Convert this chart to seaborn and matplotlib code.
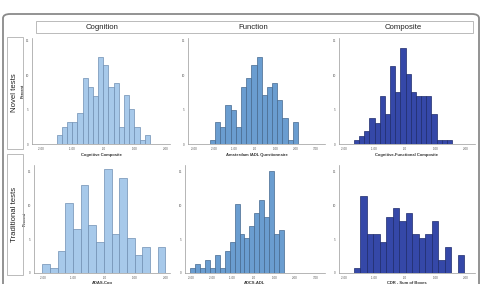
import numpy as np
import pandas as pd
import seaborn as sns
import matplotlib
matplotlib.use("Agg")
import matplotlib.pyplot as plt
from matplotlib.patches import FancyBboxPatch, Rectangle

# ---------------- data (percent per bin) ----------------
col_titles = ["Cognition", "Function", "Composite"]
row_titles = ["Novel tests", "Traditional tests"]
xlabels = [["Cognitive Composite", "Amsterdam IADL Questionnaire", "Cognitive-Functional Composite"],
           ["ADAS-Cog", "ADCS-ADL", "CDR - Sum of Boxes"]]

# bin start and width for each panel
tl_start, tl_width = -1.5, 1 / 6
tm_start, tm_width = -2.22, 0.255
tr_start, tr_width = -1.68, 0.17
bl_start, bl_width = -2.03, 0.252
bm_start, bm_width = -3.04, 0.237
br_start, br_width = -1.68, 0.213

tl_pct = [1.3, 2.5, 3.2, 3.2, 4.5, 9.6, 8.3, 7.0, 12.7, 11.5, 8.3, 8.9, 2.5, 7.1, 5.1, 2.5, 0.6, 1.3]
tm_pct = [0.6, 3.2, 2.5, 5.7, 5.0, 2.5, 8.3, 9.6, 11.5, 12.7, 7.1, 8.3, 8.9, 6.4, 3.8, 0.6, 3.2]
tr_pct = [0.6, 1.2, 1.9, 3.8, 3.1, 7.0, 4.4, 11.4, 7.6, 14.0, 10.1, 7.6, 7.0, 7.0, 7.0, 4.4, 0.6, 0.6, 0.6]
bl_pct = [1.3, 0.8, 3.3, 10.3, 6.5, 12.9, 7.0, 4.6, 15.3, 5.8, 14.0, 5.1, 2.7, 3.9, 0.0, 3.9]
bm_pct = [0.7, 1.3, 0.7, 1.9, 0.7, 2.6, 0.7, 3.2, 4.5, 10.1, 5.7, 5.1, 6.9, 8.8, 10.7, 8.2, 15.0, 5.7, 6.3]
br_pct = [0.7, 11.4, 5.7, 5.7, 4.5, 8.3, 9.5, 7.6, 8.9, 5.7, 5.1, 5.7, 7.6, 1.9, 3.8, 0.0, 2.6]

left_ticks = [-2, -1, 0, 1, 2]
mid_ticks = [-3, -2, -1, 0, 1, 2, 3]
right_ticks = [-2, -1, 0, 1, 2]
y_ticks = [0, 5, 10, 15]

panels = [
    [(tl_start, tl_width, tl_pct), (tm_start, tm_width, tm_pct), (tr_start, tr_width, tr_pct)],
    [(bl_start, bl_width, bl_pct), (bm_start, bm_width, bm_pct), (br_start, br_width, br_pct)],
]
col_ticks = [left_ticks, mid_ticks, right_ticks]
col_xlim = [(-2.3, 2.15), (-3.3, 3.45), (-2.17, 2.3)]
row_ylim = [15.4, 15.9]

fill_colors = ["#a7c9ea", "#6a9dd0", "#3548a8"]
edge_colors = ["#6f8fb2", "#46698f", "#1e2b6c"]

# ---------------- figure ----------------
W, H = 481, 284
fig = plt.figure(figsize=(W / 100, H / 100), dpi=100)
sns.set_style("white")
plt.rcParams["font.family"] = ["Liberation Sans", "DejaVu Sans"]


def fx(px):
    return px / W


def fy(py):
    return 1 - py / H


# axes pixel boxes (left, right, top, bottom)
boxes = [
    [(32, 170, 38, 144), (188, 325, 38, 144), (339, 475, 38, 144)],
    [(34, 170, 165, 273), (185, 325, 165, 273), (339, 475, 165, 273)],
]


def fmt(v):
    if v == 0:
        return ".00"
    return f"{v:.2f}"


for r in range(2):
    for c in range(3):
        l, rr, t, b = boxes[r][c]
        ax = fig.add_axes([fx(l), fy(b), fx(rr - l), (b - t) / H])
        start, width, pct = panels[r][c]
        n = len(pct)
        edges = [float(start + width * i) for i in range(n + 1)]
        centers = [(edges[i] + edges[i + 1]) / 2 for i in range(n)]
        df = pd.DataFrame({"x": centers, "pct": pct})
        sns.histplot(data=df, x="x", weights="pct", bins=edges, ax=ax,
                     color=fill_colors[c], edgecolor=edge_colors[c],
                     linewidth=0.5, alpha=1.0)
        ax.set_xlim(*col_xlim[c])
        ax.set_ylim(0, row_ylim[r])
        ax.set_xticks(col_ticks[c])
        ax.set_xticklabels([fmt(v) for v in col_ticks[c]])
        ax.set_yticks(y_ticks)
        ax.set_yticklabels([str(v) for v in y_ticks])
        ax.tick_params(axis="both", labelsize=2.2, length=1.2, width=0.4,
                       pad=1, colors="#777777", labelcolor="#555555")
        for s in ["top", "right"]:
            ax.spines[s].set_visible(False)
        for s in ["left", "bottom"]:
            ax.spines[s].set_color("#999999")
            ax.spines[s].set_linewidth(0.5)
        ax.set_xlabel(xlabels[r][c], fontsize=3, fontweight="bold",
                      color="#333333", labelpad=1.5 if r == 0 else 0.6)
        if c == 0:
            ax.set_ylabel("Percent", fontsize=2.8, fontweight="bold",
                          color="#333333", labelpad=0.8)
        else:
            ax.set_ylabel("")
        ax.set_facecolor("none")
        ax.grid(False)

# outer rounded frame
frame = FancyBboxPatch((fx(3), fy(300)), fx(476), (300 - 14) / H,
                       boxstyle="round,pad=0,rounding_size=0.015",
                       transform=fig.transFigure, fill=False,
                       edgecolor="#8a8a8a", linewidth=1.3, clip_on=False)
fig.add_artist(frame)

# header box
fig.add_artist(Rectangle((fx(36), fy(33)), fx(473 - 36), 12 / H,
                         transform=fig.transFigure, fill=False,
                         edgecolor="#b0b0b0", linewidth=0.6))
for c, cx in enumerate([102, 253, 403]):
    fig.text(fx(cx), fy(27.5), col_titles[c], ha="center", va="center",
             fontsize=5.6, color="#222222")

# row label boxes
for (top, bot), label in zip([(37, 149), (154, 275)], row_titles):
    fig.add_artist(Rectangle((fx(7), fy(bot)), fx(16), (bot - top) / H,
                             transform=fig.transFigure, fill=False,
                             edgecolor="#b0b0b0", linewidth=0.6))
    fig.text(fx(15), fy((top + bot) / 2), label, rotation=90, ha="center",
             va="center", fontsize=5.6, color="#222222")

fig.savefig("out.png", dpi=100)
